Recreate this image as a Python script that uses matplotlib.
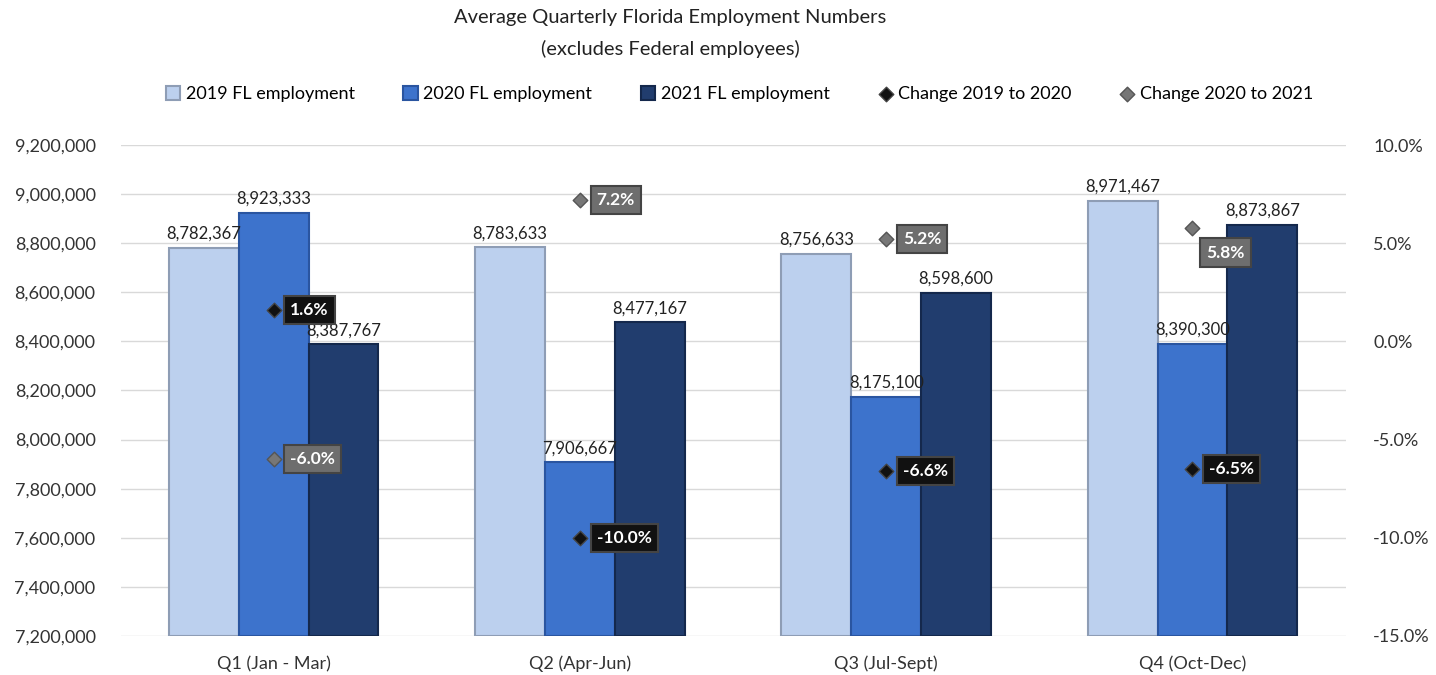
import matplotlib.pyplot as plt
import numpy as np
from matplotlib.ticker import FuncFormatter

plt.rcParams["font.family"] = ["Lato", "DejaVu Sans"]

quarters = ["Q1 (Jan - Mar)", "Q2 (Apr-Jun)", "Q3 (Jul-Sept)", "Q4 (Oct-Dec)"]
emp_2019 = [8782367, 8783633, 8756633, 8971467]
emp_2020 = [8923333, 7906667, 8175100, 8390300]
emp_2021 = [8387767, 8477167, 8598600, 8873867]
chg_19_20 = [1.6, -10.0, -6.6, -6.5]
chg_20_21 = [-6.0, 7.2, 5.2, 5.8]

series = [
    ("2019 FL employment", emp_2019, "#BCD0EE", "#8E9DB5"),
    ("2020 FL employment", emp_2020, "#3D73CC", "#2A55A0"),
    ("2021 FL employment", emp_2021, "#213D6E", "#14284C"),
]

fig = plt.figure(figsize=(14.36, 6.75), dpi=100)
ax = fig.add_axes([0.084, 0.058, 0.853, 0.727])
ax2 = ax.twinx()

x = np.arange(len(quarters))
w = 0.228
for i, (name, vals, fc, ec) in enumerate(series):
    pos = x + (i - 1) * w
    ax.bar(pos, np.array(vals) - 7200000, bottom=7200000, width=w,
           color=fc, edgecolor=ec, linewidth=1.5, label=name, zorder=3)
    for px, v in zip(pos, vals):
        ax.text(px, v + 25000, f"{v:,}", ha="center", va="bottom",
                fontsize=12, color="#222222", zorder=6)

ax.set_xlim(-0.5, 3.5)
ax.set_ylim(7200000, 9200000)
ax.set_yticks(np.arange(7200000, 9200001, 200000))
ax.yaxis.set_major_formatter(FuncFormatter(lambda v, p: f"{int(v):,}"))
ax.set_xticks(x)
ax.set_xticklabels(quarters)
ax.grid(axis="y", color="#D9D9D9", linewidth=1, zorder=0)
ax.set_axisbelow(True)
for a in (ax, ax2):
    for s in a.spines.values():
        s.set_visible(False)
    a.tick_params(length=0, labelsize=13, colors="#333333")
ax.tick_params(axis="y", pad=18)
ax.tick_params(axis="x", pad=14)

ax2.set_ylim(-15, 10)
ax2.set_yticks(np.arange(-15, 10.1, 5))
ax2.yaxis.set_major_formatter(FuncFormatter(lambda v, p: f"{v:.1f}%"))
ax2.tick_params(axis="y", pad=20)

ax2.scatter(x, chg_19_20, marker="D", s=55, color="#111111",
            edgecolor="#444444", zorder=7, label="Change 2019 to 2020")
ax2.scatter(x, chg_20_21, marker="D", s=55, color="#777777",
            edgecolor="#555555", zorder=7, label="Change 2020 to 2021")

for vals, box in ((chg_19_20, "#111111"), (chg_20_21, "#6E6E6E")):
    for i, v in enumerate(vals):
        dx, dy = 12, 0
        if box == "#6E6E6E" and i == 3:
            dx, dy = 10, -18
        ax2.annotate(f"{v:.1f}%", (x[i], v), xytext=(dx, dy),
                     textcoords="offset points", ha="left", va="center",
                     fontsize=12.5, fontweight="bold", color="white", zorder=8,
                     bbox=dict(boxstyle="square,pad=0.35", fc=box,
                               ec="#444444", lw=1.5))

h1, l1 = ax.get_legend_handles_labels()
h2, l2 = ax2.get_legend_handles_labels()
fig.legend(h1 + h2, l1 + l2, loc="center", bbox_to_anchor=(0.515, 0.861),
           ncol=5, frameon=False, fontsize=13, handlelength=0.8,
           handleheight=0.8, columnspacing=2.7, handletextpad=0.3)

fig.text(0.467, 0.974, "Average Quarterly Florida Employment Numbers",
         ha="center", va="center", fontsize=14.5, color="#222222")
fig.text(0.467, 0.928, "(excludes Federal employees)",
         ha="center", va="center", fontsize=14.5, color="#222222")

fig.savefig("out.png", dpi=100)
